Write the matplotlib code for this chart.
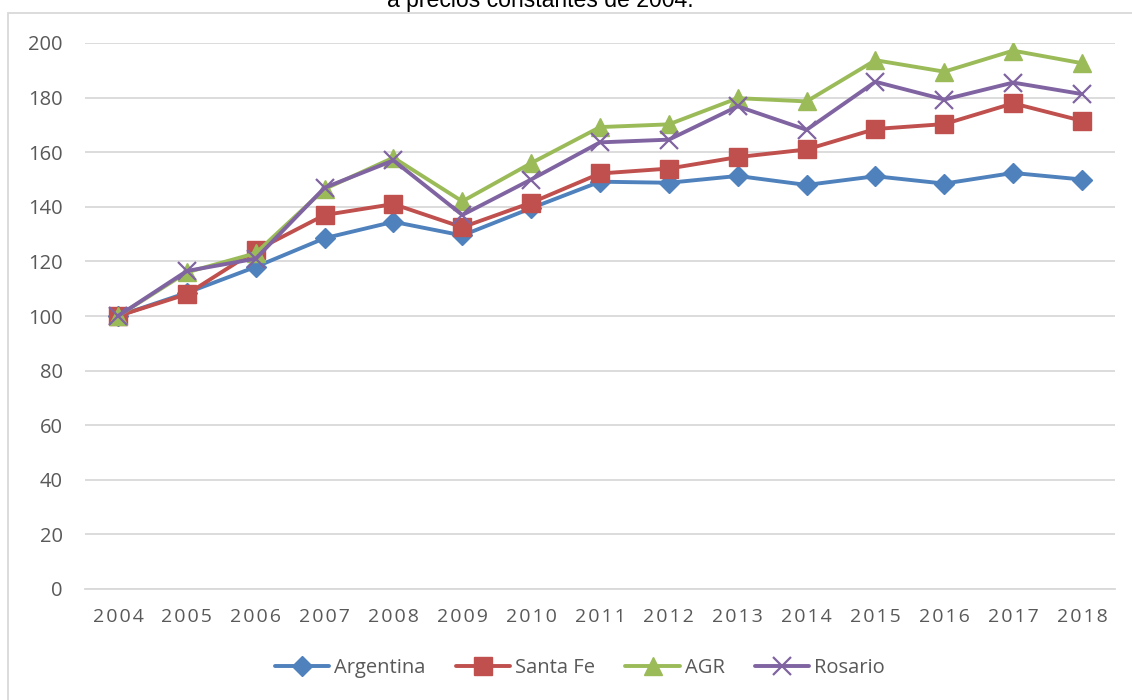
import matplotlib
matplotlib.use("Agg")
import matplotlib.pyplot as plt
from matplotlib.patches import Rectangle

years = ["2004", "2005", "2006", "2007", "2008", "2009", "2010", "2011",
         "2012", "2013", "2014", "2015", "2016", "2017", "2018"]
argentina = [100, 108.5, 118, 128.5, 134.5, 129.5, 139.5, 149.2, 148.8, 151.3, 148, 151.2, 148.5, 152.4, 150]
santa_fe = [100, 108, 124, 137, 141, 132.5, 141.5, 152.2, 154, 158.2, 161, 168.5, 170.3, 177.9, 171.5]
agr = [100, 116, 123, 146.5, 158, 142, 156, 169.2, 170.2, 179.8, 178.6, 193.7, 189.5, 197.2, 192.6]
rosario = [100, 116.5, 121, 147, 157, 137, 150, 163.6, 164.6, 176.8, 168.2, 185.8, 179.3, 185.5, 181.3]
series_names = ["Argentina", "Santa Fe", "AGR", "Rosario"]
title = "a precios constantes de 2004."

W, H = 1132, 700
fig = plt.figure(figsize=(W / 100, H / 100), dpi=100)

# chart border (partially outside the picture)
fig.patches.append(Rectangle((8 / W, -0.05), 1.2, 1 - 13 / H + 0.05,
                             transform=fig.transFigure, fill=False,
                             edgecolor="#D9D9D9", linewidth=1.3))

fig.text(540 / W, 1 - 7 / H, title, ha="center", va="baseline",
         fontsize=16.6, family="Liberation Sans", color="black")

ax = fig.add_axes([85 / W, 1 - 589 / H, (1115 - 85) / W, (589 - 43) / H])
x = list(range(len(years)))
styles = [
    (argentina, "#4F81BD", "D", 10, 1.0),
    (santa_fe, "#C0504D", "s", 12.5, 1.0),
    (agr, "#9BBB59", "^", 13, 1.0),
    (rosario, "#8064A2", "x", 12.5, 1.6),
]
for (vals, col, mk, ms, mew), name in zip(styles, series_names):
    ax.plot(x, vals, color=col, lw=2.8, marker=mk, markersize=ms,
            markeredgewidth=mew, markeredgecolor=col,
            markerfacecolor=col, label=name, solid_joinstyle="round",
            solid_capstyle="round")

ax.set_xlim(-0.48, 14.48)
ax.set_ylim(0, 200)
ax.set_yticks(range(0, 201, 20))
ax.grid(axis="y", color="#D9D9D9", lw=1.3)
ax.set_axisbelow(True)
for s in ["top", "right", "left"]:
    ax.spines[s].set_visible(False)
ax.spines["bottom"].set_color("#D9D9D9")
ax.spines["bottom"].set_linewidth(1.3)
ax.tick_params(axis="both", length=0, colors="#595959")
ax.tick_params(axis="y", pad=16, labelsize=14.5)
ax.tick_params(axis="x", pad=14, labelsize=14)
ax.set_xticks(x)
ax.set_xticklabels(["\u200a".join(list(y)) for y in years],
                   family=["Open Sans", "DejaVu Sans"])
for lab in ax.get_yticklabels():
    lab.set_family("Open Sans")

leg = fig.legend(loc="center", bbox_to_anchor=(580 / W, 1 - 668 / H), ncol=4,
                 frameon=False, handlelength=2.7,
                 columnspacing=1.5, handletextpad=0.25,
                 prop={"family": "Open Sans", "size": 14.5})
for t in leg.get_texts():
    t.set_color("#595959")

fig.savefig("out.png", dpi=100)
